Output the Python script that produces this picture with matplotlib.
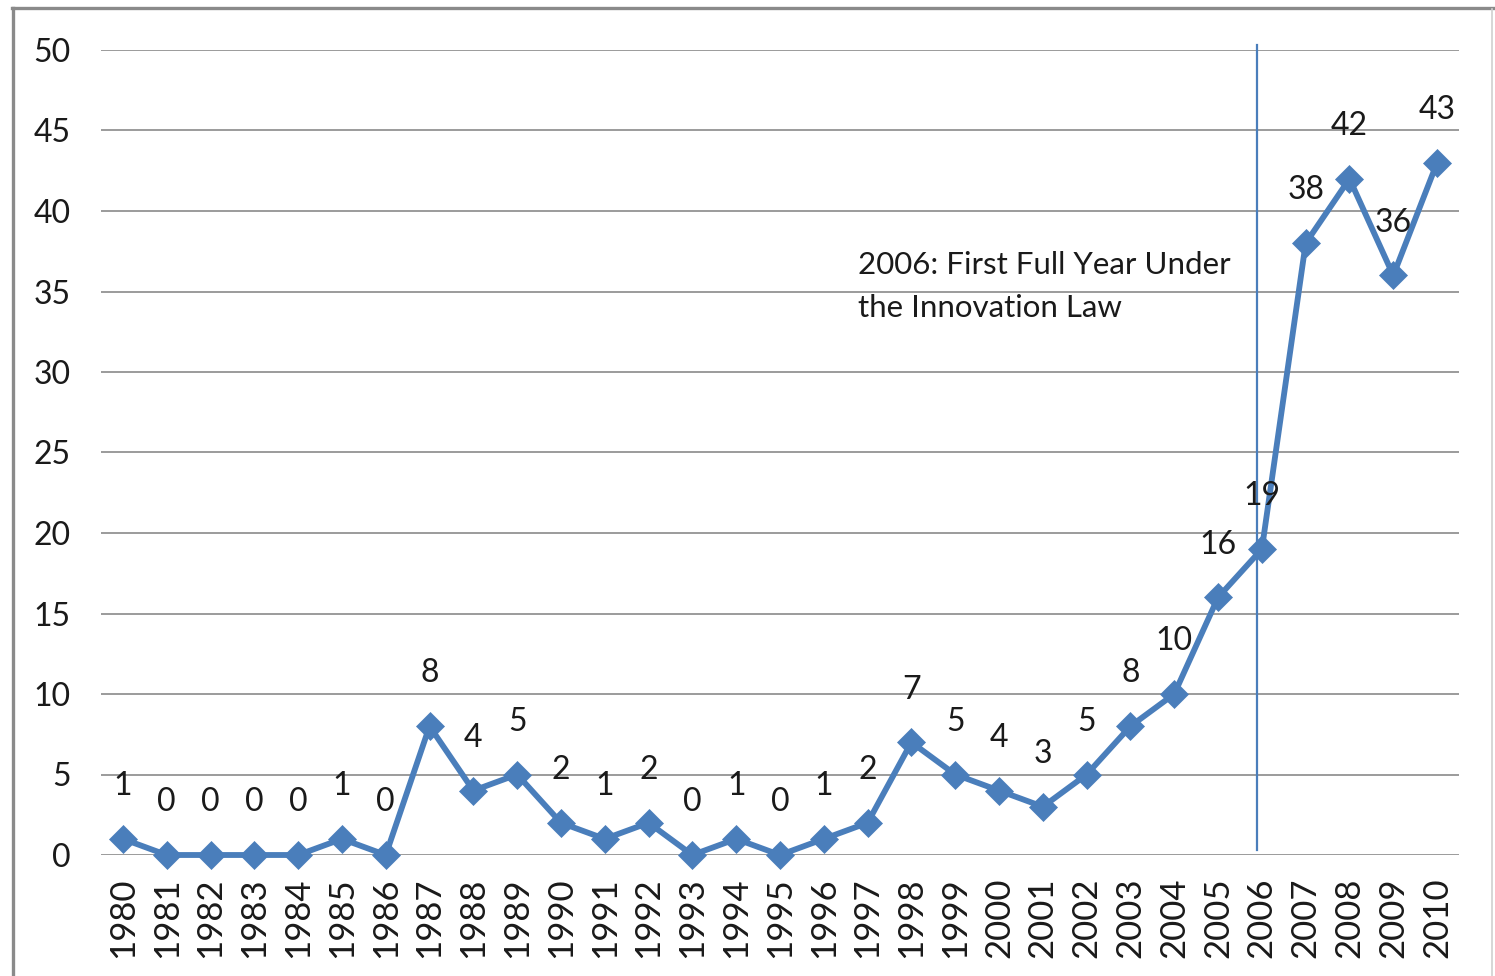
import matplotlib.pyplot as plt
from matplotlib.lines import Line2D

plt.rcParams['font.family'] = ['Lato', 'DejaVu Sans']

years = [str(y) for y in range(1980, 2011)]
counts = [1, 0, 0, 0, 0, 1, 0, 8, 4, 5, 2, 1, 2, 0, 1, 0, 1, 2, 7, 5,
          4, 3, 5, 8, 10, 16, 19, 38, 42, 36, 43]
yticks = [0, 5, 10, 15, 20, 25, 30, 35, 40, 45, 50]
note = "2006: First Full Year Under\nthe Innovation Law"

blue = '#4a7ebb'
W, H = 1495, 976
fig = plt.figure(figsize=(W / 100, H / 100), dpi=100)
ax = fig.add_axes([101 / W, 1 - 855 / H, (1459 - 101) / W, (855 - 50) / H])

x = list(range(len(years)))
ax.plot(x, counts, color=blue, lw=4.2, marker='D', ms=14.5, mec=blue,
        mew=0.5, clip_on=False, zorder=3)
for xi, v in zip(x, counts):
    ax.annotate(str(v), (xi, v), xytext=(0, 38), textcoords='offset points',
                ha='center', va='center', fontsize=23, color='#1a1a1a')

# marker for the first full year under the law
ax.axvline(x[26] - 0.11, ymin=0.006, ymax=1.006, color=blue, lw=1.6,
           clip_on=False, zorder=2)
ax.text(16.78, 35.3, note, fontsize=22.5, color='#1a1a1a', va='center',
        ha='left', linespacing=1.65)

ax.set_xlim(-0.5, len(years) - 0.5)
ax.set_ylim(0, 50)
ax.set_xticks(x)
ax.set_xticklabels(years, rotation=90, fontsize=25)
ax.set_yticks(yticks)
ax.tick_params(axis='both', length=0, colors='#1a1a1a')
ax.tick_params(axis='y', pad=22, labelsize=23)
ax.tick_params(axis='x', pad=16)
ax.grid(axis='y', color='#8a8a8a', lw=1.2)
ax.set_axisbelow(True)
for s in ax.spines.values():
    s.set_visible(False)

# outer chart frame
fig.add_artist(Line2D([13 / W, 13 / W], [0, 1 - 8 / H], transform=fig.transFigure,
                      color='#8a8a8a', lw=2.4))
fig.add_artist(Line2D([12 / W, 1494 / W], [1 - 8 / H, 1 - 8 / H],
                      transform=fig.transFigure, color='#8a8a8a', lw=2.4))
fig.add_artist(Line2D([1492 / W, 1492 / W], [0, 1 - 9 / H], transform=fig.transFigure,
                      color='#d0d0d0', lw=1.2))

fig.savefig('out.png', dpi=100)
